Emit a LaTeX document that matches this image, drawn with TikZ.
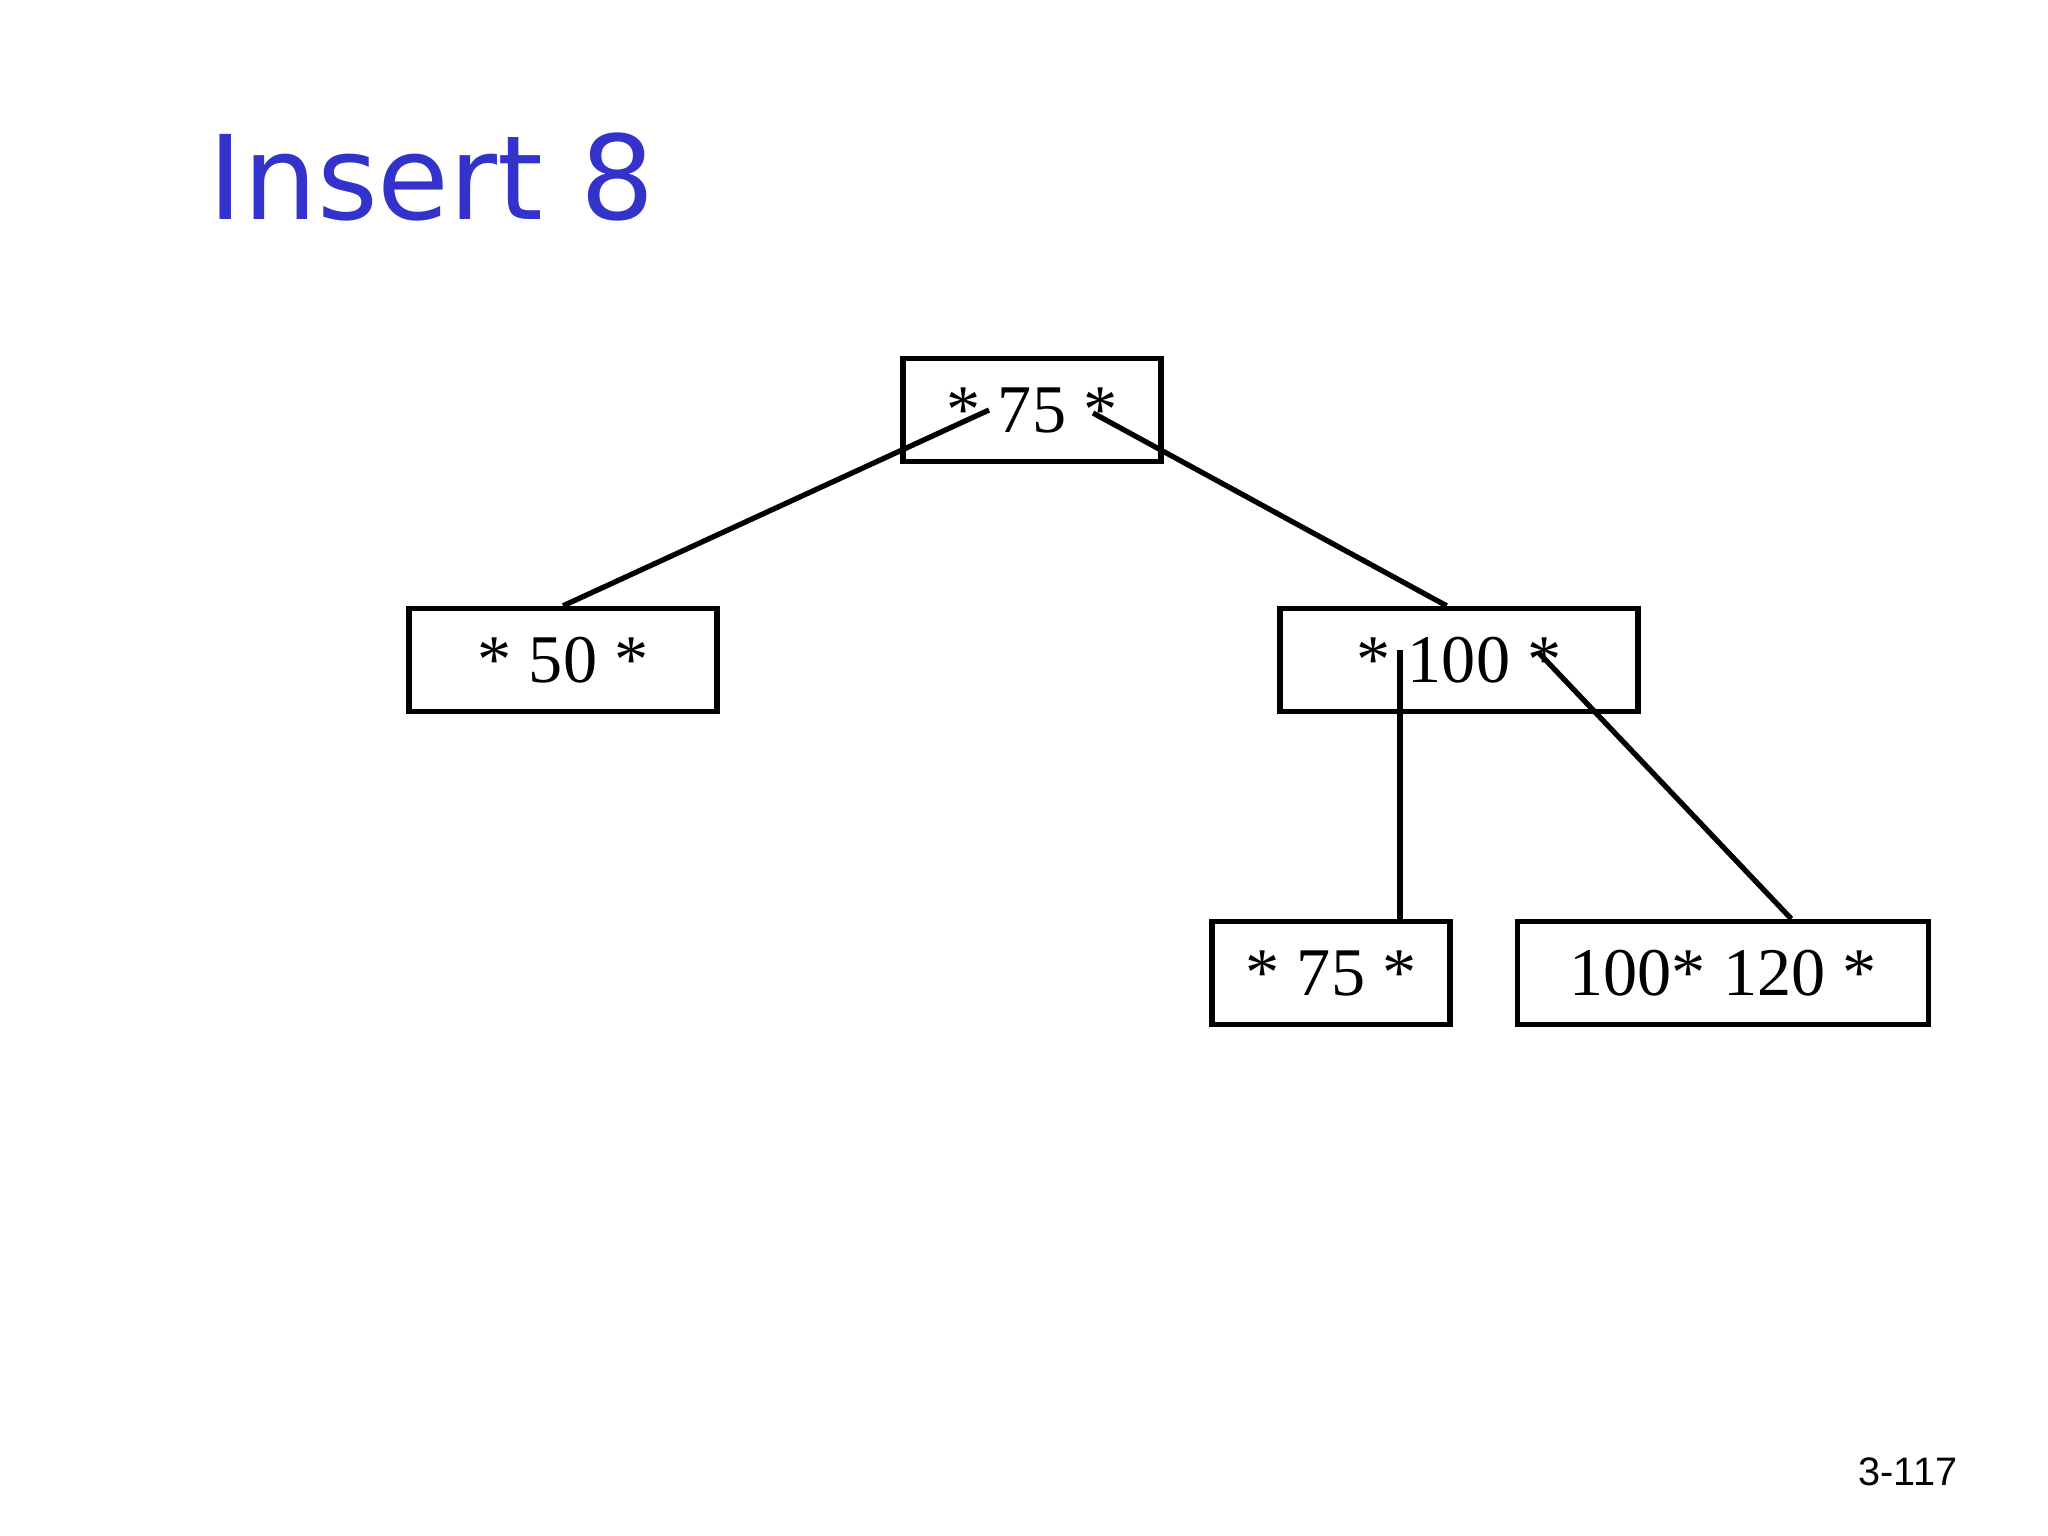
\documentclass[tikz,border=0pt]{standalone}
\usepackage{fontspec}
\setmainfont{Liberation Serif}
\newfontfamily\titlefont{DejaVu Sans}
\newfontfamily\pagefont{Liberation Sans}
\usetikzlibrary{calc}
\definecolor{ttblue}{RGB}{51,51,204}
\tikzset{
  keybox/.style={draw=black,line width=1.5pt,minimum height=1.03cm,inner sep=0pt,
    font=\fontsize{19.4}{23}\selectfont},
  ptrline/.style={draw=black,line width=1.5pt},
}
\newcommand{\bnode}[5]{%
  \node[keybox,minimum width={#4*0.01cm}] (#1) at (#2,#3) {#5};}
\newcommand{\onedge}[2]{($(#1.north west)!#2!(#1.north east)$)}

\begin{document}
\begin{tikzpicture}[x=0.01cm,y=-0.01cm]
  \useasboundingbox (0,0) rectangle (2048,1536);
  \node[anchor=base west,inner sep=0pt,text=ttblue,
    font=\titlefont\fontsize{33.2}{40}\selectfont]
    (title) at (208,219) {Insert 8};
  \bnode{root}{1032}{410}{258}{* 75 *}
  \bnode{n50}{563}{660}{308}{* 50 *}
  \bnode{n100}{1459}{660}{358}{* 100 *}
  \bnode{c75}{1331}{973}{238}{* 75 *}
  \bnode{c120}{1723}{973}{411}{100* 120 *}
  % pointers
  \coordinate (rl) at (989,410);
  \coordinate (rr) at (1093,413);
  \coordinate (ml) at (1400,650);
  \coordinate (mr) at (1539,653);
  \draw[ptrline] (rl) -- (n50.north);
  \draw[ptrline] (rr) -- \onedge{n100}{0.466};
  \draw[ptrline] (ml) -- (ml |- c75.north);
  \draw[ptrline] (mr) -- \onedge{c120}{0.664};
  \node[anchor=base east,inner sep=0pt,font=\pagefont\fontsize{11.3}{14}\selectfont]
    (pageno) at (1958,1485) {3-117};
\end{tikzpicture}
\end{document}
